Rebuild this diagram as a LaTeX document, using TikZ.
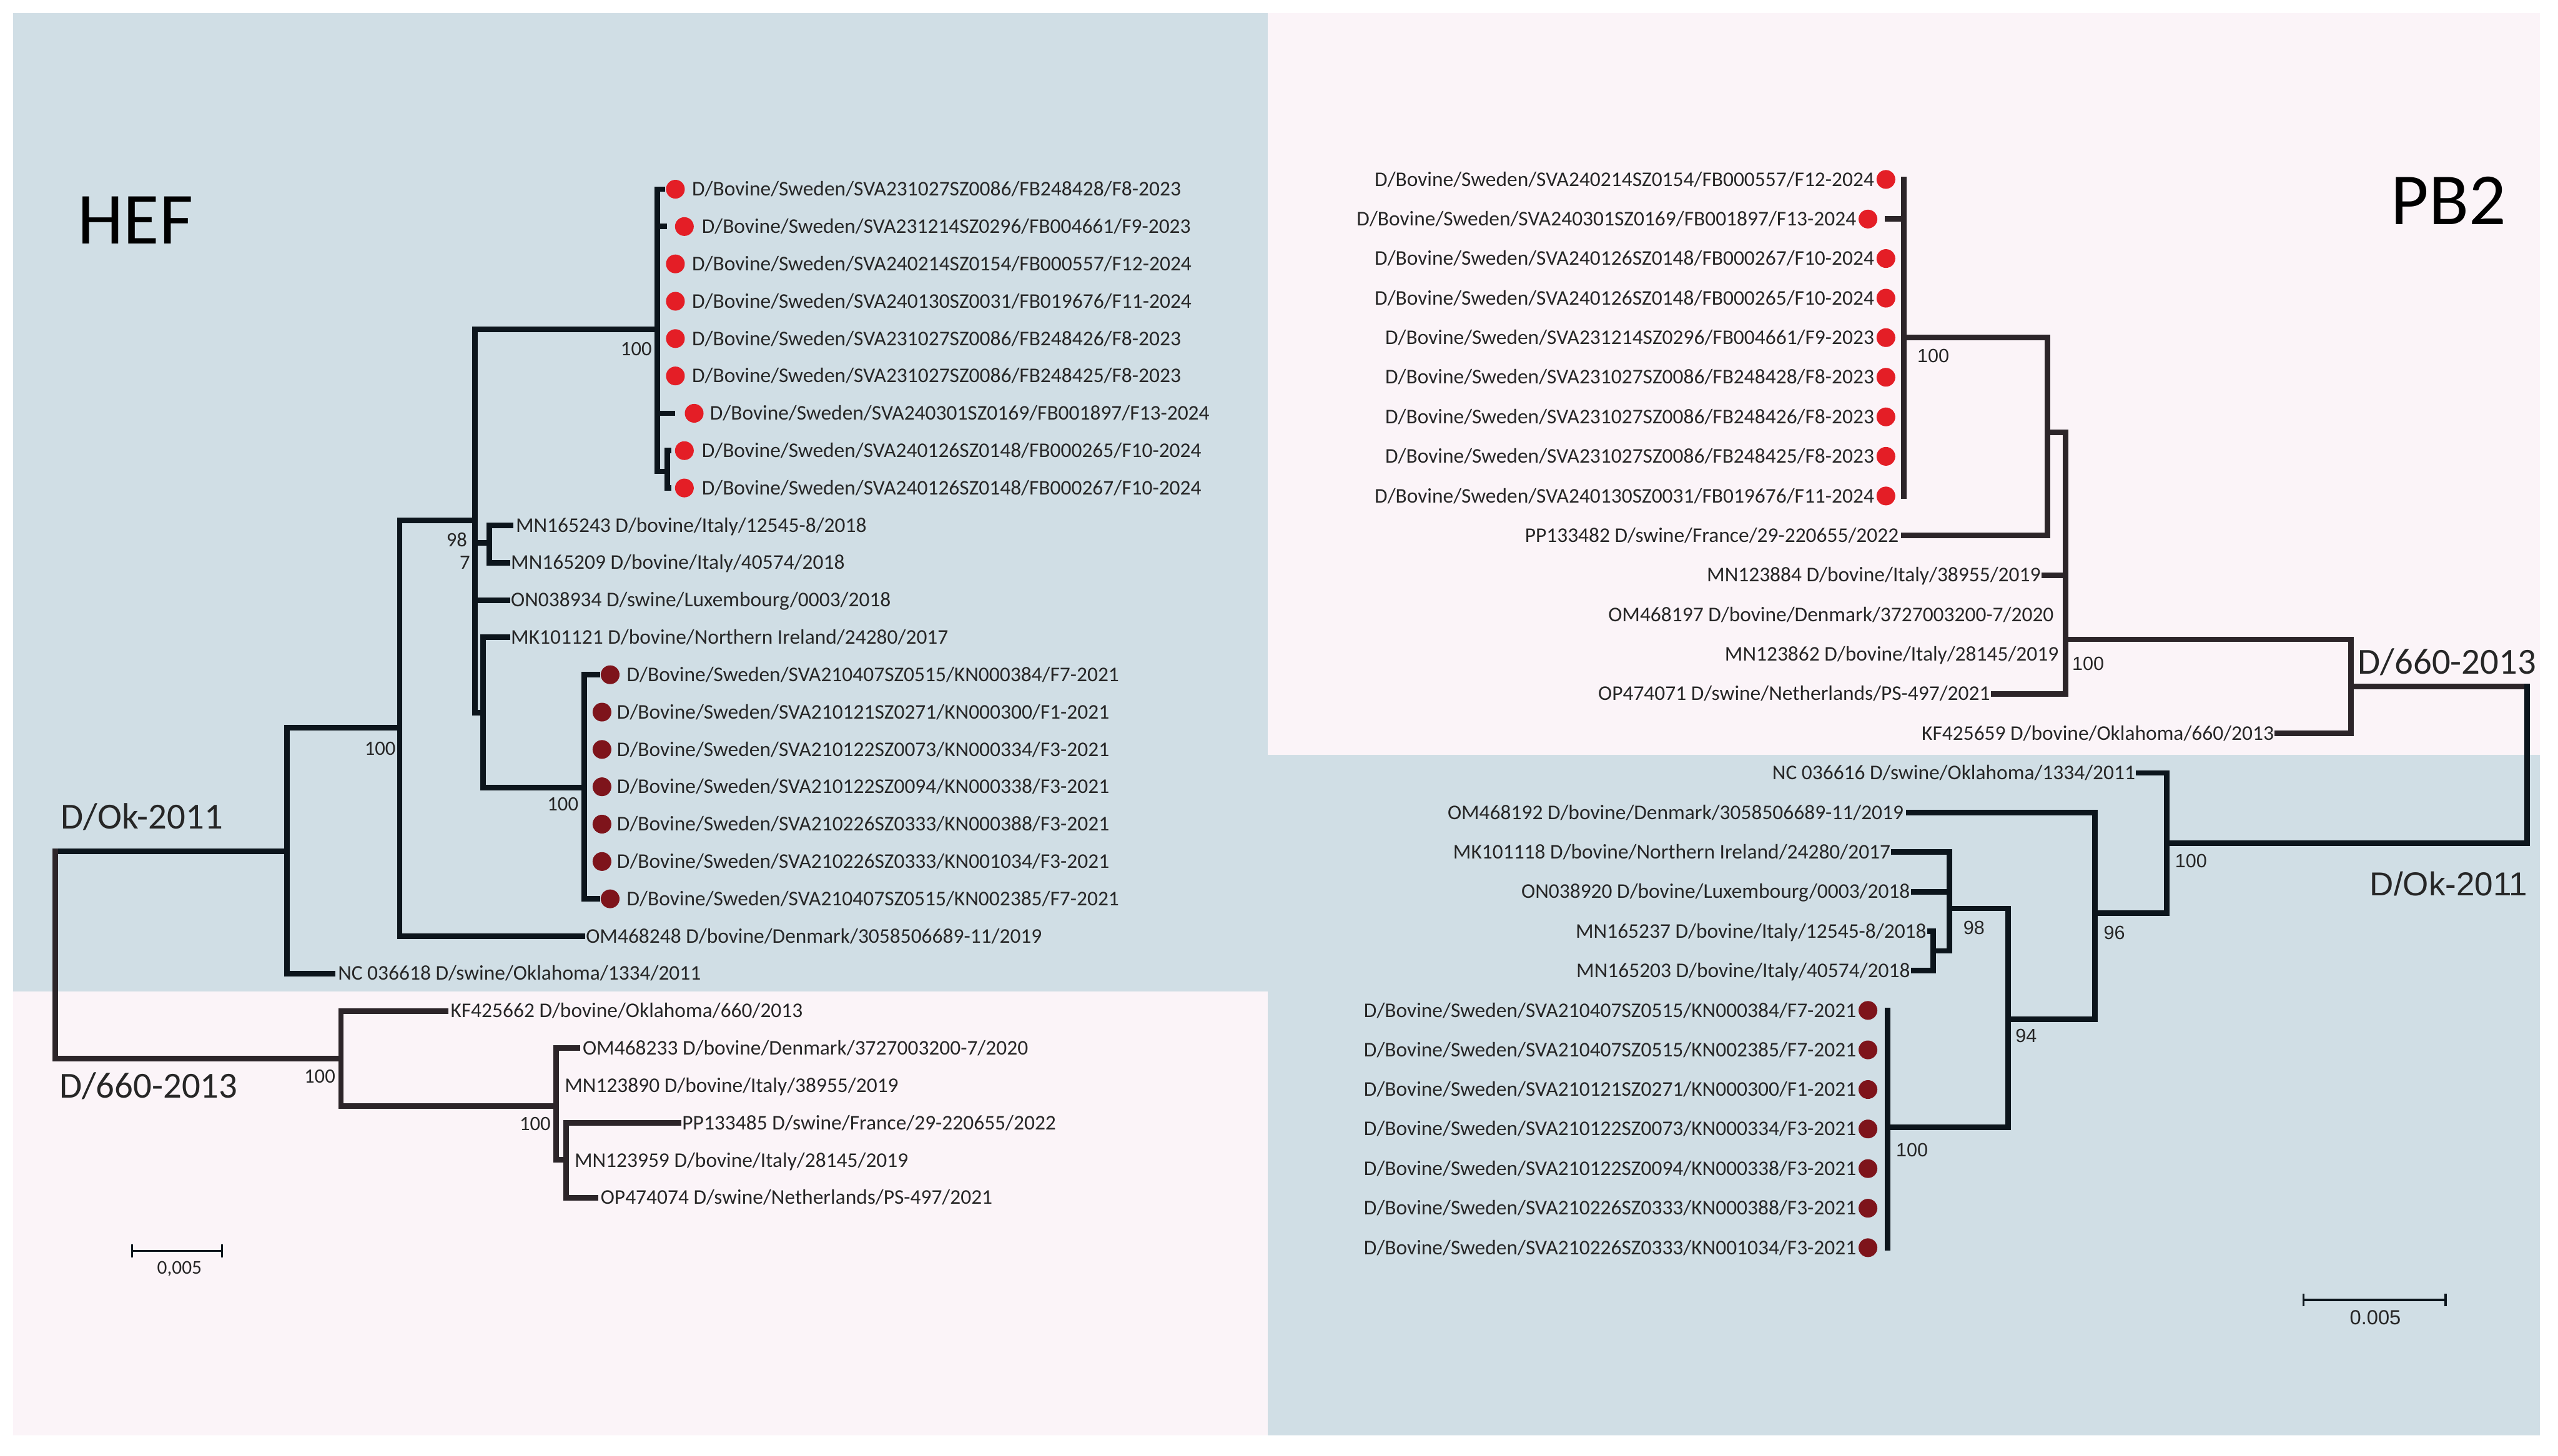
\documentclass[tikz,border=0pt]{standalone}
\usepackage{fontspec}
\setmainfont{Carlito}
\newfontfamily\arialf{Liberation Sans}
\definecolor{bgblue}{HTML}{D0DEE5}
\definecolor{bgpink}{HTML}{FBF4F8}
\definecolor{lnblue}{HTML}{0C151C}
\definecolor{lnpink}{HTML}{2C2529}
\definecolor{txt}{HTML}{262626}
\definecolor{redA}{HTML}{E41E26}
\definecolor{redB}{HTML}{7E141B}
\begin{document}
\begin{tikzpicture}[x=1pt,y=-1pt,
  br/.style={line width=3.4pt,draw=lnblue,line cap=rect},
  bp/.style={line width=3.4pt,draw=lnpink,line cap=rect},
  labl/.style={font=\fontsize{12.8}{14}\selectfont, text=txt, inner sep=0pt, text height=8.2pt, text depth=0pt, anchor=west},
  labr/.style={labl, anchor=east},
  bs/.style={font=\fontsize{12.5}{14}\selectfont, text=txt, inner sep=0pt},
  bsa/.style={font=\arialf\fontsize{11.7}{13}\selectfont, text=txt, inner sep=0pt},
  dotA/.style={circle,fill=redA,inner sep=0pt,minimum size=11.5pt},
  dotB/.style={circle,fill=redB,inner sep=0pt,minimum size=11.5pt},
  big/.style={font=\fontsize{45}{50}\selectfont, text=black, inner sep=0pt},
  clade/.style={font=\fontsize{22.5}{26}\selectfont, text=txt, inner sep=0pt},
  sbar/.style={line width=1.3pt,draw=lnblue},
]
\useasboundingbox (0,0) rectangle (1568,892.5);
% backgrounds
\fill[white] (0,0) rectangle (1568,892.5);
\fill[bgblue] (8,8) rectangle (777,608);
\fill[bgpink] (8,608) rectangle (777,880);
\fill[bgpink] (777,8) rectangle (1557,463);
\fill[bgblue] (777,463) rectangle (1557,880);

%================ HEF =================
\coordinate (hR) at (34,522);
\coordinate (hA) at (176,522);
\coordinate (hB) at (245,446);
\coordinate (hC) at (291,319);
\coordinate (hD) at (403,202);
\coordinate (hD2) at (409,289);
\coordinate (hIt) at (300,333);
\coordinate (hG) at (296,437);
\coordinate (hF) at (358,483);
\coordinate (hH) at (209,649);
\coordinate (hI) at (341,678);
\coordinate (hJ) at (347,711);

\coordinate (ht1) at (406,116.0);
\coordinate (ht2) at (407,138.9);
\coordinate (ht3) at (403,161.8);
\coordinate (ht4) at (403,184.7);
\coordinate (ht5) at (403,207.6);
\coordinate (ht6) at (403,230.5);
\coordinate (ht7) at (412,253.4);
\coordinate (ht8) at (410,276.3);
\coordinate (ht9) at (410,299.2);
\coordinate (ht10) at (313,322.1);
\coordinate (ht11) at (311,345.0);
\coordinate (ht12) at (311,367.9);
\coordinate (ht13) at (311,390.8);
\coordinate (ht14) at (366,413.7);
\coordinate (ht15) at (358,436.6);
\coordinate (ht16) at (358,459.5);
\coordinate (ht17) at (358,482.4);
\coordinate (ht18) at (358,505.3);
\coordinate (ht19) at (358,528.2);
\coordinate (ht20) at (366,551.1);
\coordinate (ht21) at (357,574.0);
\coordinate (ht22) at (204,596.9);
\coordinate (ht23) at (273,619.8);
\coordinate (ht24) at (354,642.7);
\coordinate (ht25) at (341,665.6);
\coordinate (ht26) at (416,688.5);
\coordinate (ht27) at (347,711.4);
\coordinate (ht28) at (365,734.3);

\draw[br] (hR) |- (hA);
\draw[bp] (hR) |- (hH);
\draw[br] (hA) |- (hB);
\draw[br] (hA) |- (ht22);
\draw[br] (hB) |- (hC);
\draw[br] (hB) |- (ht21);
\draw[br] (hC) |- (hD);
\draw[br] (hC) |- (hIt);
\draw[br] (hC) |- (ht12);
\draw[br] (hC) |- (hG);
\foreach \t in {1,...,7} {\draw[br] (hD) |- (ht\t);}
\draw[br] (hD) |- (hD2);
\draw[br] (hD2) |- (ht8);
\draw[br] (hD2) |- (ht9);
\draw[br] (hIt) |- (ht10);
\draw[br] (hIt) |- (ht11);
\draw[br] (hG) |- (ht13);
\draw[br] (hG) |- (hF);
\foreach \t in {14,...,20} {\draw[br] (hF) |- (ht\t);}
\draw[bp] (hH) |- (ht23);
\draw[bp] (hH) |- (hI);
\draw[bp] (hI) |- (ht24);
\draw[bp] (hI) |- (ht25);
\draw[bp] (hI) |- (hJ);
\draw[bp] (hJ) |- (ht26);
\draw[bp] (hJ) |- (ht27);
\draw[bp] (hJ) |- (ht28);

% dots
\node[dotA] (hd1) at (414,116.0) {};
\node[dotA] (hd2) at (419.5,138.9) {};
\node[dotA] (hd3) at (414,161.8) {};
\node[dotA] (hd4) at (414,184.7) {};
\node[dotA] (hd5) at (414,207.6) {};
\node[dotA] (hd6) at (414,230.5) {};
\node[dotA] (hd7) at (425.5,253.4) {};
\node[dotA] (hd8) at (419.5,276.3) {};
\node[dotA] (hd9) at (419.5,299.2) {};
\node[dotB] (hd14) at (374,413.7) {};
\node[dotB] (hd15) at (369,436.6) {};
\node[dotB] (hd16) at (369,459.5) {};
\node[dotB] (hd17) at (369,482.4) {};
\node[dotB] (hd18) at (369,505.3) {};
\node[dotB] (hd19) at (369,528.2) {};
\node[dotB] (hd20) at (374,551.1) {};

% labels
\node[labl] (hl1) at (424,116.0) {D/Bovine/Sweden/SVA231027SZ0086/FB248428/F8-2023};
\node[labl] (hl2) at (430,138.9) {D/Bovine/Sweden/SVA231214SZ0296/FB004661/F9-2023};
\node[labl] (hl3) at (424,161.8) {D/Bovine/Sweden/SVA240214SZ0154/FB000557/F12-2024};
\node[labl] (hl4) at (424,184.7) {D/Bovine/Sweden/SVA240130SZ0031/FB019676/F11-2024};
\node[labl] (hl5) at (424,207.6) {D/Bovine/Sweden/SVA231027SZ0086/FB248426/F8-2023};
\node[labl] (hl6) at (424,230.5) {D/Bovine/Sweden/SVA231027SZ0086/FB248425/F8-2023};
\node[labl] (hl7) at (435,253.4) {D/Bovine/Sweden/SVA240301SZ0169/FB001897/F13-2024};
\node[labl] (hl8) at (430,276.3) {D/Bovine/Sweden/SVA240126SZ0148/FB000265/F10-2024};
\node[labl] (hl9) at (430,299.2) {D/Bovine/Sweden/SVA240126SZ0148/FB000267/F10-2024};
\node[labl] (hl10) at (316,322.1) {MN165243 D/bovine/Italy/12545-8/2018};
\node[labl] (hl11) at (313,345.0) {MN165209 D/bovine/Italy/40574/2018};
\node[labl] (hl12) at (313,367.9) {ON038934 D/swine/Luxembourg/0003/2018};
\node[labl] (hl13) at (313,390.8) {MK101121 D/bovine/Northern Ireland/24280/2017};
\node[labl] (hl14) at (384,413.7) {D/Bovine/Sweden/SVA210407SZ0515/KN000384/F7-2021};
\node[labl] (hl15) at (378,436.6) {D/Bovine/Sweden/SVA210121SZ0271/KN000300/F1-2021};
\node[labl] (hl16) at (378,459.5) {D/Bovine/Sweden/SVA210122SZ0073/KN000334/F3-2021};
\node[labl] (hl17) at (378,482.4) {D/Bovine/Sweden/SVA210122SZ0094/KN000338/F3-2021};
\node[labl] (hl18) at (378,505.3) {D/Bovine/Sweden/SVA210226SZ0333/KN000388/F3-2021};
\node[labl] (hl19) at (378,528.2) {D/Bovine/Sweden/SVA210226SZ0333/KN001034/F3-2021};
\node[labl] (hl20) at (384,551.1) {D/Bovine/Sweden/SVA210407SZ0515/KN002385/F7-2021};
\node[labl] (hl21) at (359,574.0) {OM468248 D/bovine/Denmark/3058506689-11/2019};
\node[labl] (hl22) at (207,596.9) {NC 036618 D/swine/Oklahoma/1334/2011};
\node[labl] (hl23) at (276,619.8) {KF425662 D/bovine/Oklahoma/660/2013};
\node[labl] (hl24) at (357,642.7) {OM468233 D/bovine/Denmark/3727003200-7/2020};
\node[labl] (hl25) at (346,665.6) {MN123890 D/bovine/Italy/38955/2019};
\node[labl] (hl26) at (418,688.5) {PP133485 D/swine/France/29-220655/2022};
\node[labl] (hl27) at (352,711.4) {MN123959 D/bovine/Italy/28145/2019};
\node[labl] (hl28) at (368,734.3) {OP474074 D/swine/Netherlands/PS-497/2021};

% bootstrap
\node[bs] (hbD) at (390,214) {100};
\node[bs] (hbC) at (280,331) {98};
\node[bs] (hbIt) at (285,345) {7};
\node[bs] (hbB) at (233,459) {100};
\node[bs] (hbF) at (345,493) {100};
\node[bs] (hbH) at (196,660) {100};
\node[bs] (hbI) at (328,689) {100};

% titles
\node[big] (hef) at (83,135) {HEF};
\node[clade] (hok) at (87,501) {D/Ok-2011};
\node[clade] (h660) at (91,666) {D/660-2013};

% scale bar
\coordinate (hs1) at (81,767);
\coordinate (hs2) at (136,767);
\draw[sbar] (hs1) -- (hs2);
\draw[sbar] ([yshift=-4pt]hs1) -- ([yshift=4pt]hs1);
\draw[sbar] ([yshift=-4pt]hs2) -- ([yshift=4pt]hs2);
\node[font=\fontsize{12}{14}\selectfont, text=txt, inner sep=0pt] (hsl) at (110,778) {0,005};

%================ PB2 =================
\coordinate (pR) at (1549,421);
\coordinate (pN) at (1441,421);
\coordinate (pM) at (1266,392);
\coordinate (pL) at (1255,265);
\coordinate (pK) at (1167,207);
\coordinate (pO) at (1328,517);
\coordinate (pP) at (1284,560);
\coordinate (pQ) at (1231,625);
\coordinate (pE) at (1195,557);
\coordinate (pS) at (1185,583);
\coordinate (pT) at (1157,691);

\coordinate (pt1) at (1167,110.0);
\coordinate (pt2) at (1157,134.3);
\coordinate (pt3) at (1167,158.5);
\coordinate (pt4) at (1167,182.8);
\coordinate (pt5) at (1167,207.0);
\coordinate (pt6) at (1167,231.3);
\coordinate (pt7) at (1167,255.6);
\coordinate (pt8) at (1167,279.8);
\coordinate (pt9) at (1167,304.1);
\coordinate (pt10) at (1167,328.3);
\coordinate (pt11) at (1253,352.6);
\coordinate (pt12) at (1266,376.9);
\coordinate (pt13) at (1266,401.1);
\coordinate (pt14) at (1222,425.4);
\coordinate (pt15) at (1396,449.6);
\coordinate (pt16) at (1311,473.9);
\coordinate (pt17) at (1170,498.2);
\coordinate (pt18) at (1161,522.4);
\coordinate (pt19) at (1173,546.7);
\coordinate (pt20) at (1183,570.9);
\coordinate (pt21) at (1173,595.2);
\coordinate (pt22) at (1157,619.5);
\coordinate (pt23) at (1157,643.7);
\coordinate (pt24) at (1157,668.0);
\coordinate (pt25) at (1157,692.2);
\coordinate (pt26) at (1157,716.5);
\coordinate (pt27) at (1157,740.8);
\coordinate (pt28) at (1157,765.0);

\draw[bp] (pR) |- (pN);
\draw[br] (pR) |- (pO);
\draw[bp] (pN) |- (pM);
\draw[bp] (pN) |- (pt15);
\draw[bp] (pM) |- (pL);
\foreach \t in {11,...,14} {\draw[bp] (pM) |- (pt\t);}
\draw[bp] (pL) |- (pK);
\draw[bp] (pL) |- (pt10);
\foreach \t in {1,...,9} {\draw[bp] (pK) |- (pt\t);}
\draw[br] (pO) |- (pt16);
\draw[br] (pO) |- (pP);
\draw[br] (pP) |- (pt17);
\draw[br] (pP) |- (pQ);
\draw[br] (pQ) |- (pE);
\draw[br] (pQ) |- (pT);
\draw[br] (pE) |- (pt18);
\draw[br] (pE) |- (pt19);
\draw[br] (pE) |- (pS);
\draw[br] (pS) |- (pt20);
\draw[br] (pS) |- (pt21);
\foreach \t in {22,...,28} {\draw[br] (pT) |- (pt\t);}

% dots
\node[dotA] (pd1) at (1156,110.0) {};
\node[dotA] (pd2) at (1145,134.3) {};
\node[dotA] (pd3) at (1156,158.5) {};
\node[dotA] (pd4) at (1156,182.8) {};
\node[dotA] (pd5) at (1156,207.0) {};
\node[dotA] (pd6) at (1156,231.3) {};
\node[dotA] (pd7) at (1156,255.6) {};
\node[dotA] (pd8) at (1156,279.8) {};
\node[dotA] (pd9) at (1156,304.1) {};
\node[dotB] (pd22) at (1145,619.5) {};
\node[dotB] (pd23) at (1145,643.7) {};
\node[dotB] (pd24) at (1145,668.0) {};
\node[dotB] (pd25) at (1145,692.2) {};
\node[dotB] (pd26) at (1145,716.5) {};
\node[dotB] (pd27) at (1145,740.8) {};
\node[dotB] (pd28) at (1145,765.0) {};

% labels
\node[labr] (pl1) at (1149,110.0) {D/Bovine/Sweden/SVA240214SZ0154/FB000557/F12-2024};
\node[labr] (pl2) at (1138,134.3) {D/Bovine/Sweden/SVA240301SZ0169/FB001897/F13-2024};
\node[labr] (pl3) at (1149,158.5) {D/Bovine/Sweden/SVA240126SZ0148/FB000267/F10-2024};
\node[labr] (pl4) at (1149,182.8) {D/Bovine/Sweden/SVA240126SZ0148/FB000265/F10-2024};
\node[labr] (pl5) at (1149,207.0) {D/Bovine/Sweden/SVA231214SZ0296/FB004661/F9-2023};
\node[labr] (pl6) at (1149,231.3) {D/Bovine/Sweden/SVA231027SZ0086/FB248428/F8-2023};
\node[labr] (pl7) at (1149,255.6) {D/Bovine/Sweden/SVA231027SZ0086/FB248426/F8-2023};
\node[labr] (pl8) at (1149,279.8) {D/Bovine/Sweden/SVA231027SZ0086/FB248425/F8-2023};
\node[labr] (pl9) at (1149,304.1) {D/Bovine/Sweden/SVA240130SZ0031/FB019676/F11-2024};
\node[labr] (pl10) at (1164,328.3) {PP133482 D/swine/France/29-220655/2022};
\node[labr] (pl11) at (1251,352.6) {MN123884 D/bovine/Italy/38955/2019};
\node[labr] (pl12) at (1259,376.9) {OM468197 D/bovine/Denmark/3727003200-7/2020};
\node[labr] (pl13) at (1262,401.1) {MN123862 D/bovine/Italy/28145/2019};
\node[labr] (pl14) at (1220,425.4) {OP474071 D/swine/Netherlands/PS-497/2021};
\node[labr] (pl15) at (1394,449.6) {KF425659 D/bovine/Oklahoma/660/2013};
\node[labr] (pl16) at (1309,473.9) {NC 036616 D/swine/Oklahoma/1334/2011};
\node[labr] (pl17) at (1167,498.2) {OM468192 D/bovine/Denmark/3058506689-11/2019};
\node[labr] (pl18) at (1159,522.4) {MK101118 D/bovine/Northern Ireland/24280/2017};
\node[labr] (pl19) at (1171,546.7) {ON038920 D/bovine/Luxembourg/0003/2018};
\node[labr] (pl20) at (1181,570.9) {MN165237 D/bovine/Italy/12545-8/2018};
\node[labr] (pl21) at (1171,595.2) {MN165203 D/bovine/Italy/40574/2018};
\node[labr] (pl22) at (1138,619.5) {D/Bovine/Sweden/SVA210407SZ0515/KN000384/F7-2021};
\node[labr] (pl23) at (1138,643.7) {D/Bovine/Sweden/SVA210407SZ0515/KN002385/F7-2021};
\node[labr] (pl24) at (1138,668.0) {D/Bovine/Sweden/SVA210121SZ0271/KN000300/F1-2021};
\node[labr] (pl25) at (1138,692.2) {D/Bovine/Sweden/SVA210122SZ0073/KN000334/F3-2021};
\node[labr] (pl26) at (1138,716.5) {D/Bovine/Sweden/SVA210122SZ0094/KN000338/F3-2021};
\node[labr] (pl27) at (1138,740.8) {D/Bovine/Sweden/SVA210226SZ0333/KN000388/F3-2021};
\node[labr] (pl28) at (1138,765.0) {D/Bovine/Sweden/SVA210226SZ0333/KN001034/F3-2021};

% bootstrap
\node[bsa] (pbK) at (1185,218) {100};
\node[bsa] (pbM) at (1280,407) {100};
\node[bsa] (pbO) at (1343,528) {100};
\node[bsa] (pbP) at (1296,572) {96};
\node[bsa] (pbQ) at (1242,635) {94};
\node[bsa] (pbE) at (1210,569) {98};
\node[bsa] (pbT) at (1172,705) {100};

% titles
\node[big] (pb2) at (1501,123) {PB2};
\node[clade] (p660) at (1500,406) {D/660-2013};
\node[font=\arialf\fontsize{20.3}{24}\selectfont, text=txt, inner sep=0pt] (pok) at (1501,542) {D/Ok-2011};

% scale bar
\coordinate (ps1) at (1412,797);
\coordinate (ps2) at (1499,797);
\draw[sbar] (ps1) -- (ps2);
\draw[sbar] ([yshift=-4pt]ps1) -- ([yshift=4pt]ps1);
\draw[sbar] ([yshift=-4pt]ps2) -- ([yshift=4pt]ps2);
\node[font=\arialf\fontsize{12.5}{14}\selectfont, text=txt, inner sep=0pt] (psl) at (1456,808) {0.005};
\end{tikzpicture}
\end{document}
